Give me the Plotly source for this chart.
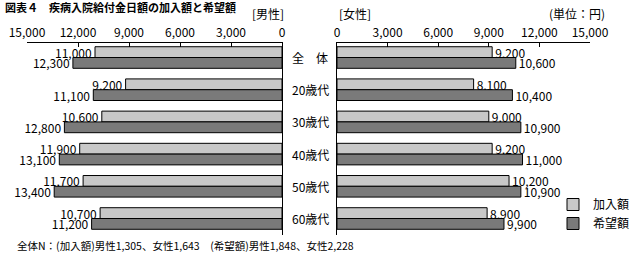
import plotly.graph_objects as go

# Age groups (rows) and daily hospitalization benefit amounts (yen)
categories = ["全　体", "20歳代", "30歳代", "40歳代", "50歳代", "60歳代"]
male_enrolled = [11000, 9200, 10600, 11900, 11700, 10700]
male_desired = [12300, 11100, 12800, 13100, 13400, 11200]
female_enrolled = [9200, 8100, 9000, 9200, 10200, 8900]
female_desired = [10600, 10400, 10900, 11000, 10900, 9900]
series_names = ["加入額", "希望額"]
tick_values = [0, 3000, 6000, 9000, 12000, 15000]

W, H = 633, 253
FONT = "Noto Sans CJK JP"
LIGHT = "#c8c8c8"
DARK = "#7a7a7a"


def px_x(p):
    return p / W


def px_y(p):
    return 1 - p / H


fig = go.Figure()

bar_common = dict(
    orientation="h",
    textposition="outside",
    texttemplate="%{x:,}",
    textfont=dict(family=FONT, size=12, color="black"),
    constraintext="none",
    cliponaxis=False,
)

# Male panel (left, reversed axis)
fig.add_trace(go.Bar(x=male_enrolled, y=categories, name=series_names[0],
                     marker=dict(color=LIGHT, line=dict(color="black", width=1)),
                     xaxis="x", yaxis="y", legendgroup="a", **bar_common))
fig.add_trace(go.Bar(x=male_desired, y=categories, name=series_names[1],
                     marker=dict(color=DARK, line=dict(color="black", width=1)),
                     xaxis="x", yaxis="y", legendgroup="b", **bar_common))
# Female panel (right)
fig.add_trace(go.Bar(x=female_enrolled, y=categories, name=series_names[0],
                     marker=dict(color=LIGHT, line=dict(color="black", width=1)),
                     xaxis="x2", yaxis="y2", legendgroup="a", showlegend=False,
                     **bar_common))
fig.add_trace(go.Bar(x=female_desired, y=categories, name=series_names[1],
                     marker=dict(color=DARK, line=dict(color="black", width=1)),
                     xaxis="x2", yaxis="y2", legendgroup="b", showlegend=False,
                     **bar_common))

y_dom = [px_y(234.6), px_y(42.7)]
y_range = [5.5, -0.46]

xaxis_common = dict(
    side="top",
    tickvals=tick_values,
    ticktext=[f"{v:,}" for v in tick_values],
    ticks="inside",
    ticklen=4,
    tickcolor="black",
    showline=True,
    linecolor="black",
    linewidth=1,
    showgrid=False,
    zeroline=False,
    tickfont=dict(family=FONT, size=12, color="black"),
    fixedrange=True,
    automargin=False,
)
yaxis_common = dict(
    type="category",
    categoryarray=categories,
    range=y_range,
    domain=y_dom,
    showticklabels=False,
    ticks="",
    showline=True,
    linecolor="black",
    linewidth=1,
    showgrid=False,
    zeroline=False,
    automargin=False,
)

fig.update_layout(
    width=W,
    height=H,
    margin=dict(l=0, r=0, t=0, b=0, autoexpand=False),
    paper_bgcolor="white",
    plot_bgcolor="white",
    barmode="group",
    bargap=0.33,
    bargroupgap=0,
    font=dict(family=FONT, size=12, color="black"),
    xaxis=dict(domain=[px_x(27), px_x(282)], range=[15000, 0], anchor="y",
               **xaxis_common),
    xaxis2=dict(domain=[px_x(337), px_x(590)], range=[0, 15000], anchor="y2",
                **xaxis_common),
    yaxis=dict(anchor="x", side="right", **yaxis_common),
    yaxis2=dict(anchor="x2", side="left", **yaxis_common),
    legend=dict(
        x=px_x(553), y=px_y(190), xanchor="left", yanchor="top",
        font=dict(family=FONT, size=12, color="black"),
        bgcolor="rgba(0,0,0,0)",
        itemwidth=30,
        tracegroupgap=0,
        traceorder="normal",
    ),
)

annotations = [
    dict(text="<b>図表４　疾病入院給付金日額の加入額と希望額</b>", x=px_x(3), y=px_y(7),
         xanchor="left", yanchor="middle", font=dict(size=11)),
    dict(text="[男性]", x=px_x(250), y=px_y(13), xanchor="left", yanchor="middle"),
    dict(text="[女性]", x=px_x(337), y=px_y(13), xanchor="left", yanchor="middle"),
    dict(text="(単位：円)", x=px_x(607), y=px_y(13), xanchor="right", yanchor="middle"),
    dict(text="全体N：(加入額)男性1,305、女性1,643　(希望額)男性1,848、女性2,228",
         x=px_x(15), y=px_y(245), xanchor="left", yanchor="middle",
         font=dict(size=10.5)),
]
for a in annotations:
    a.update(xref="paper", yref="paper", showarrow=False)
for c in categories:
    annotations.append(dict(text=c, x=px_x(310), y=c, xref="paper", yref="y",
                            xanchor="center", yanchor="middle", showarrow=False))
fig.update_layout(annotations=annotations)

fig.write_html("out.html")
